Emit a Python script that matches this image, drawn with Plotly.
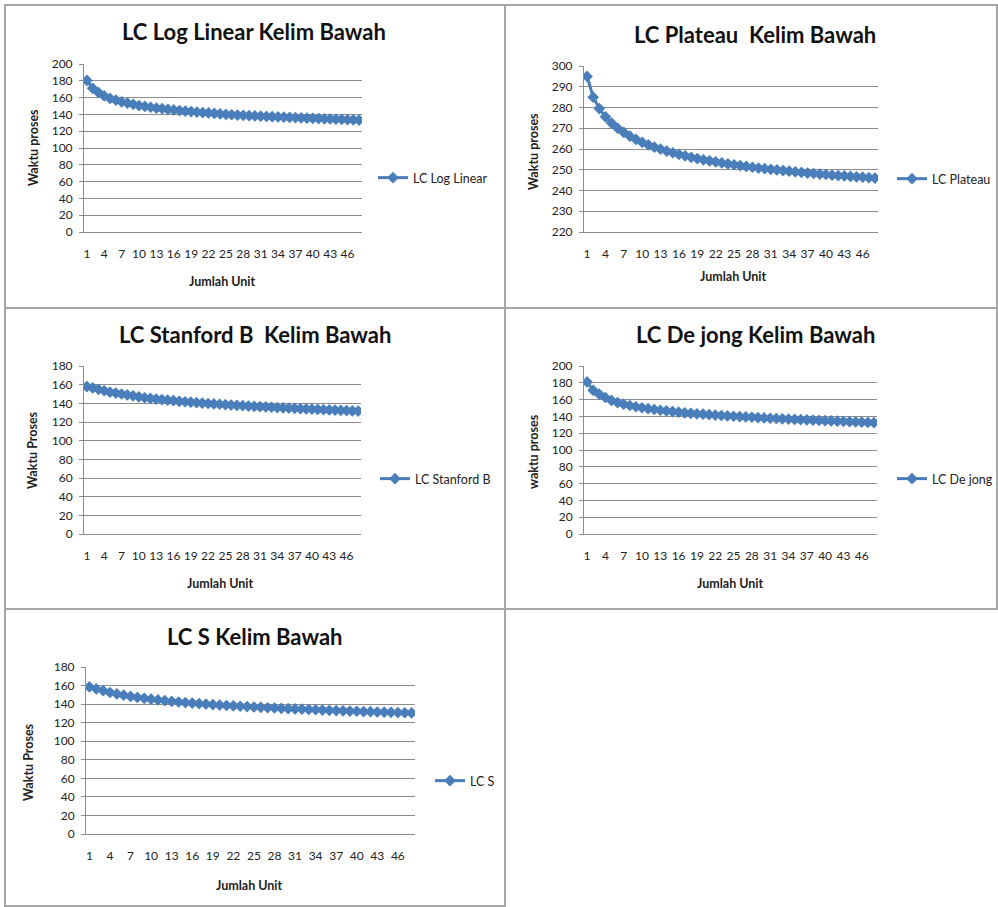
import plotly.graph_objects as go

W, H = 998, 907

units = list(range(1, 49))
tick_vals = list(range(1, 47, 3))
tick_text = [str(v) for v in tick_vals]

log_linear = [180.5, 171, 166, 162, 159, 157, 155, 153.5, 152, 150.5, 149.5, 148.5,
              147.5, 146.8, 146, 145.3, 144.6, 144, 143.4, 142.8, 142.2, 141.7, 141.2, 140.6,
              140, 139.6, 139.2, 138.8, 138.5, 138.2, 137.9, 137.6, 137.3, 137, 136.7, 136.4,
              136.1, 135.8, 135.5, 135.3, 135, 134.7, 134.5, 134.2, 134, 133.7, 133.5, 133.2]

plateau = [295, 285, 279.5, 275.5, 272.5, 270, 268, 266.2, 264.6, 263.2, 262, 260.9,
           259.9, 259, 258.2, 257.4, 256.7, 256, 255.4, 254.8, 254.3, 253.8, 253.3, 252.8,
           252.4, 252, 251.6, 251.2, 250.8, 250.5, 250.2, 249.9, 249.6, 249.3, 249, 248.7,
           248.4, 248.2, 247.9, 247.7, 247.4, 247.2, 247, 246.8, 246.6, 246.4, 246.2, 246]

stanford_b = [158, 156.5, 155, 153.5, 152, 151, 150, 149, 148, 147, 146, 145.3,
              144.6, 144, 143.4, 142.8, 142.2, 141.7, 141.2, 140.7, 140.2, 139.8, 139.4, 139,
              138.6, 138.2, 137.8, 137.5, 137.1, 136.8, 136.4, 136.1, 135.8, 135.5, 135.2, 134.9,
              134.6, 134.3, 134, 133.7, 133.5, 133.2, 132.9, 132.7, 132.4, 132.2, 131.9, 131.7]

de_jong = [181, 171, 166.5, 162.5, 159, 156.5, 154.5, 153, 151.5, 150.3, 149.2, 148.2,
           147.3, 146.5, 145.7, 145, 144.3, 143.7, 143.1, 142.6, 142.1, 141.6, 141.1, 140.6,
           140.2, 139.8, 139.4, 139, 138.6, 138.2, 137.8, 137.5, 137.1, 136.8, 136.4, 136.1,
           135.8, 135.5, 135.2, 134.9, 134.6, 134.3, 134, 133.7, 133.4, 133.1, 132.8, 132.5]

lc_s = [158.5, 156.5, 154.5, 152.5, 151, 149.6, 148.3, 147.2, 146.2, 145.3, 144.5, 143.7,
        143, 142.3, 141.7, 141.1, 140.5, 140, 139.5, 139, 138.5, 138.1, 137.7, 137.3,
        136.9, 136.5, 136.1, 135.8, 135.4, 135.1, 134.8, 134.5, 134.2, 133.9, 133.6, 133.3,
        133, 132.8, 132.5, 132.3, 132, 131.8, 131.5, 131.3, 131.1, 130.9, 130.7, 130.5]

titles = ["LC Log Linear Kelim Bawah", "LC Plateau  Kelim Bawah", "LC Stanford B  Kelim Bawah",
          "LC De jong Kelim Bawah", "LC S Kelim Bawah"]
series_names = ["LC Log Linear", "LC Plateau", "LC Stanford B", "LC De jong", "LC S"]
y_titles = ["Waktu proses", "Waktu proses", "Waktu Proses", "waktu proses", "Waktu Proses"]
x_title = "Jumlah Unit"
y_ranges = [(0, 200, 20), (220, 300, 10), (0, 180, 20), (0, 200, 20), (0, 180, 20)]
series = [log_linear, plateau, stanford_b, de_jong, lc_s]

# layout geometry in pixels
plot_boxes = [(84, 362, 64, 232), (584, 878, 66, 232), (84, 361, 366, 534),
              (584, 877, 366, 534), (86, 415, 667, 834)]
title_pos = [(254, 32), (755, 35), (255, 334), (755, 334), (255, 636)]
xtitle_pos = [(222, 282), (733, 277), (220, 583), (730, 583), (250, 885)]
ytitle_pos = [(33, 148), (533, 152), (33, 450), (533, 452), (28, 762)]
legend_pos = [(373, 178), (892, 179), (375, 479), (892, 479), (430, 781)]
borders = [(5, 5, 505, 308), (505, 5, 997, 308), (5, 308, 505, 609),
           (505, 308, 997, 609), (5, 609, 505, 906)]

def px(x):
    return x / W

def py(y):
    return 1 - y / H

FONT = "Lato, Calibri, Carlito, sans-serif"
BLUE = "#4A7EBB"
GRID = "#8c8c8c"

fig = go.Figure()
annotations = []
shapes = []
layout = {}

for i in range(5):
    n = i + 1
    sfx = "" if n == 1 else str(n)
    lg = "legend" if n == 1 else f"legend{n}"
    fig.add_trace(go.Scatter(
        x=units, y=series[i], name=series_names[i], mode="lines+markers",
        line=dict(color=BLUE, width=3),
        marker=dict(symbol="diamond", size=9, color=BLUE),
        xaxis=f"x{sfx}", yaxis=f"y{sfx}", legend=lg, showlegend=True,
    ))
    x0, x1, y0, y1 = plot_boxes[i]
    lo, hi, step = y_ranges[i]
    layout[f"xaxis{sfx}"] = dict(
        domain=[px(x0), px(x1)], anchor=f"y{sfx}", range=[0.5, 48.5],
        tickvals=tick_vals, ticktext=tick_text, showgrid=False,
        showline=True, linecolor=GRID, linewidth=1, ticks="", zeroline=False,
        tickfont=dict(family=FONT, size=12, color="#222"), ticklabelstandoff=11,
        automargin=False,
    )
    layout[f"yaxis{sfx}"] = dict(
        domain=[py(y1), py(y0)], anchor=f"x{sfx}", range=[lo, hi],
        tickvals=list(range(lo, hi + 1, step)), showgrid=True, gridcolor=GRID, gridwidth=1,
        showline=True, linecolor=GRID, linewidth=1, ticks="outside", ticklen=4,
        tickcolor=GRID, zeroline=False, automargin=False,
        tickfont=dict(family=FONT, size=12, color="#222"), ticklabelstandoff=4,
    )
    lx, ly = legend_pos[i]
    layout[lg] = dict(
        x=px(lx), y=py(ly), xanchor="left", yanchor="middle",
        font=dict(family=FONT, size=12.5, color="#222"), bgcolor="rgba(0,0,0,0)",
        itemwidth=30,
    )
    tx, ty = title_pos[i]
    annotations.append(dict(text=f"<b>{titles[i]}</b>", x=px(tx), y=py(ty), xref="paper", yref="paper",
                            showarrow=False, xanchor="center", yanchor="middle",
                            font=dict(family=FONT, size=22, color="#111")))
    ax, ay = xtitle_pos[i]
    annotations.append(dict(text=f"<b>{x_title}</b>", x=px(ax), y=py(ay), xref="paper", yref="paper",
                            showarrow=False, xanchor="center", yanchor="middle",
                            font=dict(family=FONT, size=12.5, color="#222")))
    yx, yy = ytitle_pos[i]
    annotations.append(dict(text=f"<b>{y_titles[i]}</b>", x=px(yx), y=py(yy), xref="paper", yref="paper",
                            showarrow=False, xanchor="center", yanchor="middle", textangle=-90,
                            font=dict(family=FONT, size=12.5, color="#222")))
    bx0, by0, bx1, by1 = borders[i]
    shapes.append(dict(type="rect", xref="paper", yref="paper",
                       x0=px(bx0), x1=px(bx1), y0=py(by1), y1=py(by0),
                       line=dict(color="#a6a6a6", width=2), fillcolor="rgba(0,0,0,0)", layer="below"))

fig.update_layout(
    width=W, height=H, margin=dict(l=0, r=0, t=0, b=0, autoexpand=False),
    paper_bgcolor="white", plot_bgcolor="white",
    annotations=annotations, shapes=shapes, **layout,
)

fig.write_html(
    "out.html",
    config={"displayModeBar": False},
    post_script="document.body.style.margin='0';document.body.style.overflow='hidden';",
)
